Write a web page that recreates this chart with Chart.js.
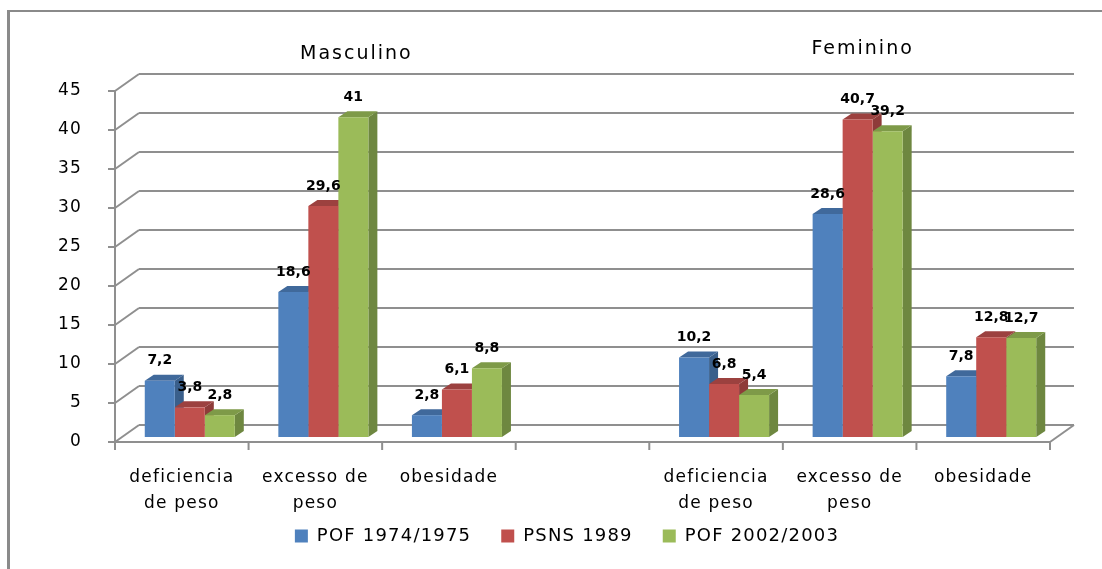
<!DOCTYPE html>
<html>
<head>
<meta charset="utf-8">
<script src="https://cdn.jsdelivr.net/npm/chart.js@4.4.1/dist/chart.umd.min.js"></script>
<style>
  body { margin: 0; background: #fff; }
  #wrap { width: 1102px; height: 569px; position: relative; }
</style>
</head>
<body>
<div id="wrap"><canvas id="chart"></canvas></div>
<script>
// categories (gap in the middle separates the two groups)
const categories = [
    ['deficiencia', 'de peso'], ['excesso de', 'peso'], 'obesidade',
    '',
    ['deficiencia', 'de peso'], ['excesso de', 'peso'], 'obesidade',
];
const seriesNames = ['POF 1974/1975', 'PSNS 1989', 'POF 2002/2003'];
const pof1974 = [7.2, 18.6, 2.8, null, 10.2, 28.6, 7.8];
const psns1989 = [3.8, 29.6, 6.1, null, 6.8, 40.7, 12.8];
const pof2002 = [2.8, 41, 8.8, null, 5.4, 39.2, 12.7];
const yTicks = [0, 5, 10, 15, 20, 25, 30, 35, 40, 45];
const groupTitles = ['Masculino', 'Feminino'];

const frontColors = ['#4F81BD', '#C0504D', '#9BBB59'];
const sideColors = ['#3A5F8B', '#8E3B39', '#6E8740'];
const topColors = ['#40699B', '#9C413F', '#7E9A48'];

const GRID = '#8f8f8f';
const DX = 9, DY = 6;           // bar depth
const BACK_X = 16, BACK_Y = 12; // back wall, from bar plane
const FRONT_X = 8, FRONT_Y = 5; // front axis, from bar plane
const SPACING = '1.2px';
const LEGEND_SHIFT = 25;        // pull legend up under the labels

Chart.defaults.font.family = '"DejaVu Sans", sans-serif';
Chart.defaults.color = '#000';

function line(ctx, x1, y1, x2, y2) {
    ctx.beginPath();
    ctx.moveTo(x1, y1);
    ctx.lineTo(x2, y2);
    ctx.stroke();
}

function poly(ctx, pts, color) {
    ctx.beginPath();
    ctx.moveTo(pts[0][0], pts[0][1]);
    pts.slice(1).forEach((p) => ctx.lineTo(p[0], p[1]));
    ctx.closePath();
    ctx.fillStyle = color;
    ctx.fill();
}

const letterSpacing = {
    id: 'letterSpacing',
    beforeUpdate(chart) { chart.ctx.letterSpacing = SPACING; },
    afterLayout(chart) {
        // only the top moves, so the box still holds the text
        chart.legend.top -= LEGEND_SHIFT;
    },
    beforeDraw(chart) { chart.ctx.letterSpacing = SPACING; },
};

const threeD = {
    id: 'threeD',
    beforeDraw(chart) {
        const ctx = chart.ctx;
        ctx.save();
        // outer frame
        ctx.strokeStyle = '#8a8a8a';
        ctx.lineWidth = 2;
        line(ctx, 8, 11, chart.width, 11);
        ctx.lineWidth = 3;
        line(ctx, 8.5, 10, 8.5, chart.height);
        ctx.restore();
    },
    beforeDatasetsDraw(chart) {
        const { ctx, chartArea: a, scales: { y } } = chart;
        const y0 = y.getPixelForValue(0);
        const fl = a.left - FRONT_X;
        ctx.save();
        ctx.strokeStyle = GRID;
        ctx.lineWidth = 2;
        yTicks.forEach((v) => {
            const py = y.getPixelForValue(v);
            line(ctx, a.left + BACK_X, py - BACK_Y, a.right + BACK_X, py - BACK_Y);
            line(ctx, fl, py + FRONT_Y, a.left + BACK_X, py - BACK_Y);
            line(ctx, fl - 7, py + FRONT_Y, fl, py + FRONT_Y);
        });
        const yTop = y.getPixelForValue(yTicks[yTicks.length - 1]);
        line(ctx, fl, yTop + FRONT_Y, fl, y0 + FRONT_Y + 8);
        line(ctx, fl, y0 + FRONT_Y, a.right - FRONT_X, y0 + FRONT_Y);
        line(ctx, a.right - FRONT_X, y0 + FRONT_Y, a.right + BACK_X, y0 - BACK_Y);
        const n = categories.length;
        for (let i = 1; i <= n; i++) {
            const cx = fl + (i * a.width) / n;
            line(ctx, cx, y0 + FRONT_Y, cx, y0 + FRONT_Y + 8);
        }
        // side and top faces of the bars
        chart.data.datasets.forEach((ds, di) => {
            chart.getDatasetMeta(di).data.forEach((bar, i) => {
                if (ds.data[i] == null) return;
                const { x: bx, y: by, base, width } = bar.getProps(['x', 'y', 'base', 'width'], true);
                const l = bx - width / 2;
                const r = bx + width / 2;
                poly(ctx, [[r, by], [r + DX, by - DY], [r + DX, base - DY], [r, base]], sideColors[di]);
                poly(ctx, [[l, by], [l + DX, by - DY], [r + DX, by - DY], [r, by]], topColors[di]);
            });
        });
        ctx.restore();
    },
    afterDatasetsDraw(chart) {
        const { ctx, scales: { x } } = chart;
        ctx.save();
        ctx.letterSpacing = '0px';
        ctx.fillStyle = '#000';
        ctx.font = 'bold 14px "DejaVu Sans"';
        ctx.textAlign = 'center';
        ctx.textBaseline = 'middle';
        chart.data.datasets.forEach((ds, di) => {
            chart.getDatasetMeta(di).data.forEach((bar, i) => {
                const v = ds.data[i];
                if (v == null) return;
                ctx.fillText(String(v).replace('.', ','), bar.x, bar.y - 20);
            });
        });
        ctx.letterSpacing = '2px';
        ctx.font = '19px "DejaVu Sans"';
        ctx.textBaseline = 'alphabetic';
        ctx.fillText(groupTitles[0], x.getPixelForValue(1) + 33, 59);
        ctx.fillText(groupTitles[1], x.getPixelForValue(5) + 5, 54);
        ctx.restore();
    },
};

new Chart(document.getElementById('chart'), {
    type: 'bar',
    data: {
        labels: categories,
        datasets: [
            { label: seriesNames[0], data: pof1974, backgroundColor: frontColors[0] },
            { label: seriesNames[1], data: psns1989, backgroundColor: frontColors[1] },
            { label: seriesNames[2], data: pof2002, backgroundColor: frontColors[2] },
        ],
    },
    options: {
        responsive: true,
        maintainAspectRatio: false,
        animation: false,
        events: [],
        layout: { padding: { left: 32, right: 0, top: 86, bottom: 7 } },
        datasets: { bar: { categoryPercentage: 0.674, barPercentage: 1, borderWidth: 0 } },
        plugins: {
            legend: {
                position: 'bottom',
                maxHeight: 40,
                labels: { boxWidth: 13, boxHeight: 13, padding: 30, font: { size: 18 } },
            },
            tooltip: { enabled: false },
        },
        scales: {
            x: {
                grid: { display: false },
                border: { display: false },
                ticks: {
                    font: { size: 17, lineHeight: 1.5 },
                    padding: 20,
                    labelOffset: -FRONT_X,
                    autoSkip: false,
                    maxRotation: 0,
                },
                afterFit: (s) => { s.height = 85; },
            },
            y: {
                min: 0,
                max: 45,
                grid: { display: false },
                border: { display: false },
                ticks: { stepSize: 5, font: { size: 17 }, padding: 33, labelOffset: FRONT_Y },
                afterFit: (s) => { s.width = 91; },
            },
            yRight: {
                position: 'right',
                grid: { display: false },
                border: { display: false },
                ticks: { display: false },
                afterFit: (s) => { s.width = 44; },
            },
        },
    },
    plugins: [letterSpacing, threeD],
});
</script>
</body>
</html>
